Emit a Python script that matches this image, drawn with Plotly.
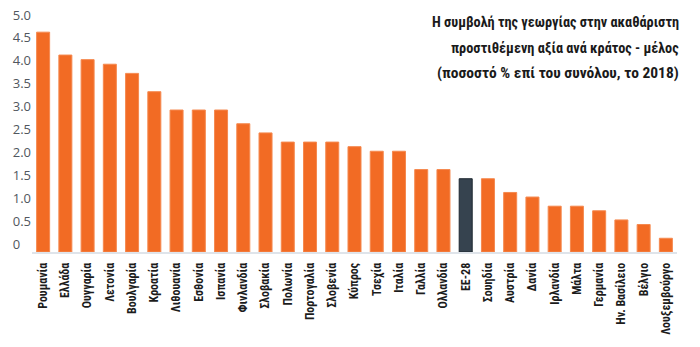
import plotly.graph_objects as go

countries = ["Ρουμανία", "Ελλάδα", "Ουγγαρία", "Λετονία", "Βουλγαρία", "Κροατία",
             "Λιθουανία", "Εσθονία", "Ισπανία", "Φινλανδία", "Σλοβακία", "Πολωνία",
             "Πορτογαλία", "Σλοβενία", "Κύπρος", "Τσεχία", "Ιταλία", "Γαλλία",
             "Ολλανδία", "ΕΕ-28", "Σουηδία", "Αυστρία", "Δανία", "Ιρλανδία",
             "Μάλτα", "Γερμανία", "Ην. Βασίλειο", "Βέλγιο", "Λουξεμβούργο"]
values = [4.8, 4.3, 4.2, 4.1, 3.9, 3.5,
          3.1, 3.1, 3.1, 2.8, 2.6, 2.4,
          2.4, 2.4, 2.3, 2.2, 2.2, 1.8,
          1.8, 1.6, 1.6, 1.3, 1.2, 1.0,
          1.0, 0.9, 0.7, 0.6, 0.3]
highlight = "ΕΕ-28"
ytick_vals = [0, 0.5, 1, 1.5, 2, 2.5, 3, 3.5, 4, 4.5, 5]
ytick_text = ["0\u2007\u2008", "0.5", "1.0", "1.5", "2.0", "2.5", "3.0", "3.5", "4.0", "4.5", "5.0"]

title_lines = ["Η συμβολή της γεωργίας στην ακαθάριστη",
               "προστιθέμενη αξία ανά κράτος - μέλος",
               "(ποσοστό % επί του συνόλου, το 2018)"]

ORANGE = "#f26b24"
ORANGE_EDGE = "#f5894f"
DARK = "#36434f"
DARK_EDGE = "#1e2831"

colors = [DARK if c == highlight else ORANGE for c in countries]
edges = [DARK_EDGE if c == highlight else ORANGE_EDGE for c in countries]

cond = "'Roboto Condensed', 'Open Sans Condensed', sans-serif"

fig = go.Figure(go.Bar(
    x=countries, y=values,
    marker=dict(color=colors, line=dict(color=edges, width=1)),
    hoverinfo="x+y",
))

fig.update_layout(
    width=700, height=347,
    margin=dict(l=32, r=23, t=23, b=95),
    paper_bgcolor="white", plot_bgcolor="white",
    bargap=0.415,
    showlegend=False,
    font=dict(family="'Open Sans', sans-serif"),
)

fig.update_xaxes(
    type="category",
    tickangle=-90,
    tickfont=dict(family=cond, size=12, color="#1c1c1c", weight="bold"),
    showline=True, linecolor="#dfe4ea", linewidth=2,
    showgrid=False, ticks="", ticklabelstandoff=4,
    automargin=False,
)
fig.update_yaxes(
    range=[0, 5],
    tickvals=ytick_vals, ticktext=ytick_text,
    tickfont=dict(family="'Open Sans', sans-serif", size=13, color="#51575e"),
    showgrid=False, zeroline=False, showline=False, ticks="",
    ticklabelshift=-8, automargin=False,
)

title_sizes = [14.3, 14.3, 15.5]
title_ys = [1.004, 0.891, 0.782]
for line, sz, yy in zip(title_lines, title_sizes, title_ys):
    fig.add_annotation(
        text=line, xref="paper", yref="paper",
        x=1.006, y=yy, xanchor="right", yanchor="middle",
        showarrow=False,
        font=dict(family=cond, size=sz, color="#1a1a1a", weight="bold"),
    )

fig.write_html("out.html")
